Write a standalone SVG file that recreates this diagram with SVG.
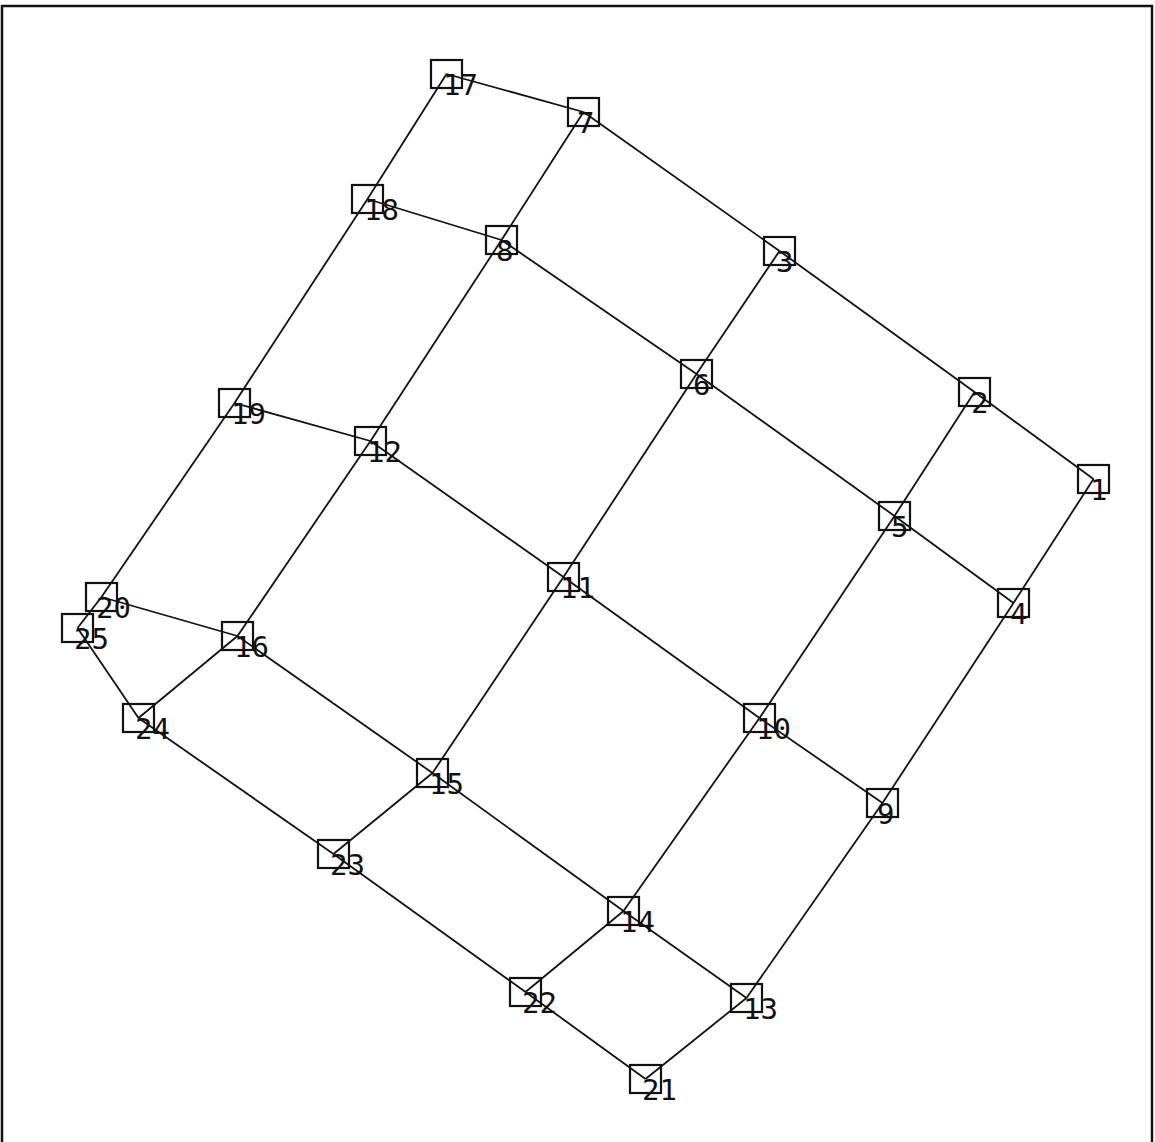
<svg xmlns="http://www.w3.org/2000/svg" width="1155" height="1142" viewBox="0 0 1155 1142">
<style>
.e{stroke:#111;stroke-width:1.8;fill:none}
.n rect{fill:none;stroke:#111;stroke-width:2.2}
.n text{font-family:"DejaVu Sans Mono","Liberation Mono",monospace;font-size:29px;fill:#111}
</style>
<rect width="1155" height="1142" fill="#fff"/>
<path d="M2,1142 V6 H1152 V1142" fill="none" stroke="#111" stroke-width="2.5"/>
<g id="connectors" class="e">
<!-- rows -->
<line x1="446.5" y1="74" x2="583.5" y2="112"/>
<line x1="583.5" y1="112" x2="779.5" y2="251"/>
<line x1="779.5" y1="251" x2="974.5" y2="392"/>
<line x1="974.5" y1="392" x2="1093.5" y2="479"/>
<line x1="367.5" y1="199" x2="501.5" y2="240"/>
<line x1="501.5" y1="240" x2="696.5" y2="374"/>
<line x1="696.5" y1="374" x2="894.5" y2="516"/>
<line x1="894.5" y1="516" x2="1013.5" y2="603"/>
<line x1="234.5" y1="403" x2="370.5" y2="441"/>
<line x1="370.5" y1="441" x2="563.5" y2="577"/>
<line x1="563.5" y1="577" x2="759.5" y2="718"/>
<line x1="759.5" y1="718" x2="882.5" y2="803"/>
<line x1="101.5" y1="597" x2="237.5" y2="636"/>
<line x1="237.5" y1="636" x2="432.5" y2="773"/>
<line x1="432.5" y1="773" x2="623.5" y2="911"/>
<line x1="623.5" y1="911" x2="746.5" y2="998"/>
<line x1="77.5" y1="628" x2="138.5" y2="718"/>
<line x1="138.5" y1="718" x2="333.5" y2="854"/>
<line x1="333.5" y1="854" x2="525.5" y2="992"/>
<line x1="525.5" y1="992" x2="645.5" y2="1079"/>
<!-- columns -->
<line x1="446.5" y1="74" x2="367.5" y2="199"/>
<line x1="367.5" y1="199" x2="234.5" y2="403"/>
<line x1="234.5" y1="403" x2="101.5" y2="597"/>
<line x1="101.5" y1="597" x2="77.5" y2="628"/>
<line x1="583.5" y1="112" x2="501.5" y2="240"/>
<line x1="501.5" y1="240" x2="370.5" y2="441"/>
<line x1="370.5" y1="441" x2="237.5" y2="636"/>
<line x1="237.5" y1="636" x2="138.5" y2="718"/>
<line x1="779.5" y1="251" x2="696.5" y2="374"/>
<line x1="696.5" y1="374" x2="563.5" y2="577"/>
<line x1="563.5" y1="577" x2="432.5" y2="773"/>
<line x1="432.5" y1="773" x2="333.5" y2="854"/>
<line x1="974.5" y1="392" x2="894.5" y2="516"/>
<line x1="894.5" y1="516" x2="759.5" y2="718"/>
<line x1="759.5" y1="718" x2="623.5" y2="911"/>
<line x1="623.5" y1="911" x2="525.5" y2="992"/>
<line x1="1093.5" y1="479" x2="1013.5" y2="603"/>
<line x1="1013.5" y1="603" x2="882.5" y2="803"/>
<line x1="882.5" y1="803" x2="746.5" y2="998"/>
<line x1="746.5" y1="998" x2="645.5" y2="1079"/>
</g>
<g id="n1" class="n"><rect x="1078" y="465" width="31" height="28"/><text x="1090" y="500">1</text></g>
<g id="n2" class="n"><rect x="959" y="378" width="31" height="28"/><text x="971" y="413">2</text></g>
<g id="n3" class="n"><rect x="764" y="237" width="31" height="28"/><text x="776" y="272">3</text></g>
<g id="n4" class="n"><rect x="998" y="589" width="31" height="28"/><text x="1010" y="624">4</text></g>
<g id="n5" class="n"><rect x="879" y="502" width="31" height="28"/><text x="891" y="537">5</text></g>
<g id="n6" class="n"><rect x="681" y="360" width="31" height="28"/><text x="693" y="395">6</text></g>
<g id="n7" class="n"><rect x="568" y="98" width="31" height="28"/><text x="577" y="133">7</text></g>
<g id="n8" class="n"><rect x="486" y="226" width="31" height="28"/><text x="496" y="261">8</text></g>
<g id="n9" class="n"><rect x="867" y="789" width="31" height="28"/><text x="877" y="824">9</text></g>
<g id="n10" class="n"><rect x="744" y="704" width="31" height="28"/><text x="756" y="739">10</text></g>
<g id="n11" class="n"><rect x="548" y="563" width="31" height="28"/><text x="560" y="598">11</text></g>
<g id="n12" class="n"><rect x="355" y="427" width="31" height="28"/><text x="367" y="462">12</text></g>
<g id="n13" class="n"><rect x="731" y="984" width="31" height="28"/><text x="743" y="1019">13</text></g>
<g id="n14" class="n"><rect x="608" y="897" width="31" height="28"/><text x="620" y="932">14</text></g>
<g id="n15" class="n"><rect x="417" y="759" width="31" height="28"/><text x="429" y="794">15</text></g>
<g id="n16" class="n"><rect x="222" y="622" width="31" height="28"/><text x="234" y="657">16</text></g>
<g id="n17" class="n"><rect x="431" y="60" width="31" height="28"/><text x="443" y="95">17</text></g>
<g id="n18" class="n"><rect x="352" y="185" width="31" height="28"/><text x="364" y="220">18</text></g>
<g id="n19" class="n"><rect x="219" y="389" width="31" height="28"/><text x="231" y="424">19</text></g>
<g id="n20" class="n"><rect x="86" y="583" width="31" height="28"/><text x="96" y="618">20</text></g>
<g id="n21" class="n"><rect x="630" y="1065" width="31" height="28"/><text x="642" y="1100">21</text></g>
<g id="n22" class="n"><rect x="510" y="978" width="31" height="28"/><text x="522" y="1013">22</text></g>
<g id="n23" class="n"><rect x="318" y="840" width="31" height="28"/><text x="330" y="875">23</text></g>
<g id="n24" class="n"><rect x="123" y="704" width="31" height="28"/><text x="135" y="739">24</text></g>
<g id="n25" class="n"><rect x="62" y="614" width="31" height="28"/><text x="74" y="649">25</text></g>
</svg>
